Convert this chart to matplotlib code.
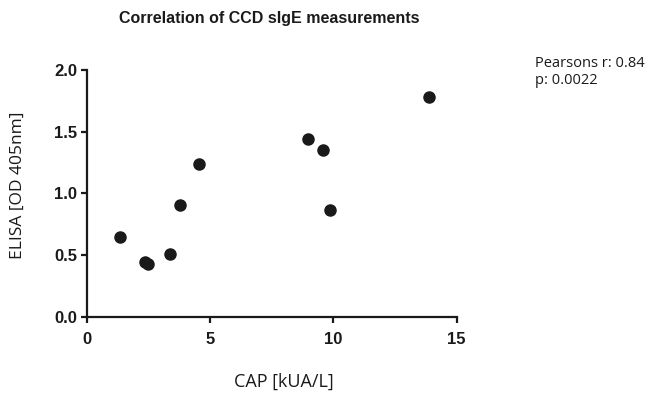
import matplotlib
matplotlib.use("Agg")
import matplotlib.pyplot as plt

# CAP vs ELISA readings
cap = [1.35, 2.38, 2.49, 3.38, 3.77, 4.57, 8.97, 9.58, 9.87, 13.86]
elisa = [0.644, 0.446, 0.425, 0.506, 0.906, 1.236, 1.444, 1.355, 0.865, 1.784]

x_ticks = [0, 5, 10, 15]
y_ticks = [0.0, 0.5, 1.0, 1.5, 2.0]

plt.rcParams['font.family'] = ['Liberation Sans', 'DejaVu Sans']

fig = plt.figure(figsize=(6.57, 4.01), dpi=100)
ax = fig.add_axes([0.132, 0.210, 0.563, 0.615])

ax.scatter(cap, elisa, s=64, color='#1a1a1a', zorder=3, clip_on=False)

ax.set_xlim(0, 15)
ax.set_ylim(0, 2.0)
ax.set_xticks(x_ticks)
ax.set_yticks(y_ticks)
ax.set_xticklabels([str(t) for t in x_ticks], fontweight='bold', fontsize=12)
ax.set_yticklabels(['%.1f' % t for t in y_ticks], fontweight='bold', fontsize=12)

for side in ['top', 'right']:
    ax.spines[side].set_visible(False)
for side in ['left', 'bottom']:
    ax.spines[side].set_linewidth(1.6)
    ax.spines[side].set_color('#1a1a1a')
ax.tick_params(width=1.6, length=4.5, color='#1a1a1a', labelcolor='#1a1a1a')
ax.tick_params(axis='x', pad=6.5)
ax.tick_params(axis='y', pad=2.5)

lab_font = ['Open Sans', 'DejaVu Sans']
ax.set_xlabel('CAP [kUA/L]', fontsize=13, color='#1a1a1a', family=lab_font)
ax.set_ylabel('ELISA [OD 405nm]', fontsize=12.5, color='#1a1a1a', family=lab_font)
ax.xaxis.set_label_coords(0.533, -0.228)
ax.yaxis.set_label_coords(-0.164, 0.533)

fig.text(0.41, 0.955, 'Correlation of CCD sIgE measurements', ha='center', va='center',
         fontsize=11.5, fontweight='bold', color='#1a1a1a')
fig.text(0.815, 0.82, 'Pearsons r: 0.84\np: 0.0022', ha='left', va='center',
         fontsize=10.5, color='#1a1a1a', linespacing=1.15, family=lab_font)

fig.savefig('out.png', dpi=100)
